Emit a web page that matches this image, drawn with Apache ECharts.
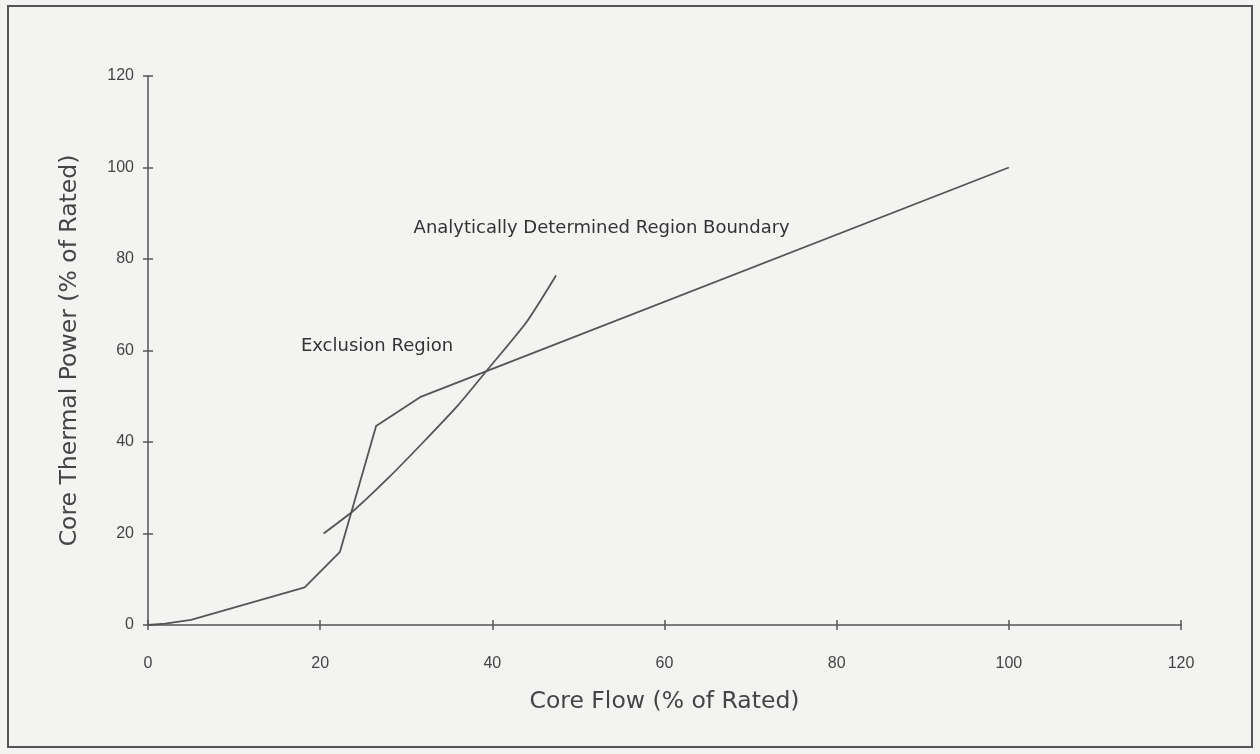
<!DOCTYPE html>
<html>
<head>
<meta charset="utf-8">
<script src="https://cdn.jsdelivr.net/npm/echarts@6/dist/echarts.min.js"></script>
<style>
  html, body { margin: 0; padding: 0; background: #f3f3f1; }
  #frame { position: absolute; left: 7px; top: 5px; width: 1246px; height: 743px; border: 2px solid #555; box-sizing: border-box; }
  #chart { position: absolute; left: 0; top: 0; width: 1260px; height: 754px; }
</style>
</head>
<body>
<div id="frame"></div>
<div id="chart"></div>
<script>
// Core flow vs. core thermal power, both in % of rated
const xTicks = [0, 20, 40, 60, 80, 100, 120];
const yTicks = [0, 20, 40, 60, 80, 100, 120];

// Stability boundary (piecewise)
const boundaryFlow  = [0, 2, 5, 18.2, 22.3, 26.5, 31.6, 40, 100];
const boundaryPower = [0, 0.3, 1.1, 8.2, 16.0, 43.5, 49.8, 56.0, 100];

// Analytically determined region boundary
const analyticFlow  = [20.4, 24.0, 28.0, 32.0, 36.0, 39.7, 44.0, 47.4];
const analyticPower = [20.0, 25.2, 32.3, 40.0, 48.0, 56.4, 66.3, 76.4];

// Text annotations (data coordinates)
const notes = [
  { text: 'Analytically Determined Region Boundary', at: [52.7, 86.8] },
  { text: 'Exclusion Region', at: [26.6, 61.0] }
];

const pairs = (xs, ys) => xs.map((x, i) => [x, ys[i]]);
const lineColor = '#555';
const labelFont = '"Liberation Sans Narrow", "Liberation Sans", Arial, sans-serif';
const nameFont = '"DejaVu Sans", "Liberation Sans", Arial, sans-serif';

const axisBase = {
  type: 'value', min: 0, max: 120, interval: 20,
  splitLine: { show: false },
  axisLine: { show: true, lineStyle: { color: lineColor, width: 1.5 } }
};

// Overlay axes carrying only inward ticks, so ticks cross the axis lines
const tickOverlay = pos => Object.assign({}, axisBase, {
  position: pos,
  axisLine: { show: true, lineStyle: { color: 'rgba(0,0,0,0)' } },
  axisTick: { show: true, inside: true, length: 5, lineStyle: { color: lineColor, width: 1.5 } },
  axisLabel: { show: false }
});

const chart = echarts.init(document.getElementById('chart'), null, { renderer: 'canvas' });
chart.setOption({
  backgroundColor: 'transparent',
  animation: false,
  grid: { left: 148, right: 79, top: 76, bottom: 129 },
  xAxis: [
    Object.assign({}, axisBase, {
      position: 'bottom',
      name: 'Core Flow (% of Rated)', nameLocation: 'middle', nameGap: 65,
      nameTextStyle: { fontFamily: nameFont, fontSize: 23.5, color: '#444' },
      axisTick: { show: true, length: 5, lineStyle: { color: lineColor, width: 1.5 } },
      axisLabel: { fontFamily: labelFont, fontSize: 16, color: '#444', margin: 31,
                   formatter: v => xTicks.includes(v) ? String(v) : '' }
    }),
    tickOverlay('bottom')
  ],
  yAxis: [
    Object.assign({}, axisBase, {
      position: 'left',
      name: 'Core Thermal Power (% of Rated)', nameLocation: 'middle', nameGap: 66,
      nameTextStyle: { fontFamily: nameFont, fontSize: 23.5, color: '#444' },
      axisTick: { show: true, length: 5, lineStyle: { color: lineColor, width: 1.5 } },
      axisLabel: { fontFamily: labelFont, fontSize: 16, color: '#444', margin: 14,
                   formatter: v => yTicks.includes(v) ? String(v) : '' }
    }),
    tickOverlay('left')
  ],
  series: [
    {
      type: 'line', data: pairs(boundaryFlow, boundaryPower),
      showSymbol: false, lineStyle: { color: lineColor, width: 1.8 },
      markPoint: {
        symbol: 'circle', symbolSize: 0,
        label: { show: true, position: 'inside', fontFamily: nameFont, fontSize: 18, color: '#333',
                 formatter: p => p.name },
        data: notes.map(n => ({ name: n.text, coord: n.at }))
      }
    },
    {
      type: 'line', data: pairs(analyticFlow, analyticPower),
      showSymbol: false, smooth: 0.2, lineStyle: { color: lineColor, width: 1.8 }
    }
  ]
});
</script>
</body>
</html>
